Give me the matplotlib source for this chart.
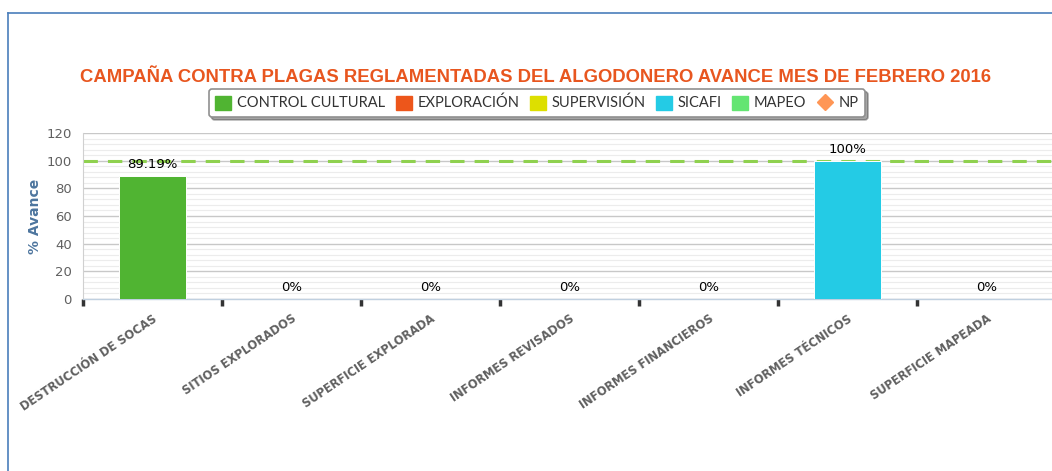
import matplotlib
matplotlib.use("Agg")
import matplotlib.pyplot as plt
from matplotlib.lines import Line2D
from matplotlib.patches import Patch
import numpy as np

categories = ["DESTRUCCIÓN DE SOCAS", "SITIOS EXPLORADOS", "SUPERFICIE EXPLORADA",
              "INFORMES REVISADOS", "INFORMES FINANCIEROS", "INFORMES TÉCNICOS",
              "SUPERFICIE MAPEADA"]
series_names = ["CONTROL CULTURAL", "EXPLORACIÓN", "SUPERVISIÓN", "SICAFI", "MAPEO"]
series_colors = ["#50b432", "#ed561b", "#dddf00", "#24cbe5", "#64e572"]
# category indices and values for each series
series_cats = [[0], [1, 2], [3], [4, 5], [6]]
series_vals = [[89.19], [0, 0], [0], [0, 100], [0]]
np_name = "NP"
np_color = "#ff9655"
target = 100
yticks = [0, 20, 40, 60, 80, 100, 120]
title = "CAMPAÑA CONTRA PLAGAS REGLAMENTADAS DEL ALGODONERO AVANCE MES DE FEBRERO 2016"

W, H = 1052, 471
fig = plt.figure(figsize=(W / 100, H / 100), dpi=100)
fig.patch.set_facecolor("white")

left, right, top, bottom = 83, 1056, 133, 299
ax = fig.add_axes([left / W, 1 - bottom / H, (right - left) / W, (bottom - top) / H])

for name, col, cats, vals in zip(series_names, series_colors, series_cats, series_vals):
    bars = ax.bar(cats, vals, width=0.475, color=col, edgecolor="white", linewidth=0.7, zorder=3)
    ax.bar_label(bars, labels=[f"{v:g}%" for v in vals], padding=3.5, fontsize=9.5,
                 color="black", family="DejaVu Sans", zorder=4)

ax.axhline(target, color="#8fd14f", lw=2.2, linestyle=(0, (4.7, 3.3)), zorder=2)

ax.set_xlim(-0.5, len(categories) - 0.5)
ax.set_ylim(0, 120)
ax.set_yticks(yticks)
ax.set_yticks(np.arange(0, 121, 4), minor=True)
ax.grid(axis="y", which="major", color="#c8c8c8", lw=1.0, zorder=0)
ax.grid(axis="y", which="minor", color="#ececec", lw=0.8, zorder=0)
ax.tick_params(axis="y", which="both", length=0, labelsize=9.5, labelcolor="#606060", pad=8)
for lab in ax.get_yticklabels():
    lab.set_family("DejaVu Sans")

ax.set_xticks(range(len(categories)))
ax.set_xticklabels(categories, rotation=34, ha="right", rotation_mode="anchor",
                   fontsize=8.3, fontweight="bold", color="#606060", family="DejaVu Sans")
ax.tick_params(axis="x", which="major", length=0, pad=9.5)
ax.set_xticks(np.arange(-0.5, len(categories), 1.0), minor=True)
ax.tick_params(axis="x", which="minor", length=5, width=2.5, color="#333333")

for s in ["top", "right"]:
    ax.spines[s].set_visible(False)
ax.spines["left"].set_color("#d0d0d0")
ax.spines["left"].set_linewidth(0.8)
ax.spines["bottom"].set_color("#c0d0e0")
ax.spines["bottom"].set_linewidth(1.0)

ax.set_ylabel("% Avance", fontsize=10, fontweight="bold", color="#4d759e",
              family="DejaVu Sans", labelpad=3)

fig.text(536 / W, 1 - 78 / H, title, ha="center", va="center", fontsize=13.3,
         fontweight="bold", color="#e8561f", family="Liberation Sans")

handles = [Patch(facecolor=c, edgecolor=c, label=n) for n, c in zip(series_names, series_colors)]
handles.append(Line2D([], [], marker="D", color=np_color, linestyle="none", markersize=8,
                      label=np_name))
leg = fig.legend(handles=handles, loc="center", bbox_to_anchor=(537 / W, 1 - 103 / H),
                 ncol=6, frameon=True, fancybox=True, shadow=True,
                 handlelength=1.1, handleheight=1.1, handletextpad=0.4, columnspacing=0.7,
                 borderpad=0.45, prop={"family": "Lato", "size": 10.5})
leg.get_frame().set_edgecolor("#909090")
leg.get_frame().set_linewidth(1.2)
for t in leg.get_texts():
    t.set_color("#333333")

# outer frame lines
fig.add_artist(Line2D([8 / W, 8 / W], [0, 1 - 13 / H], color="#4a7ebb", lw=1.2))
fig.add_artist(Line2D([8 / W, 1], [1 - 13 / H, 1 - 13 / H], color="#4a7ebb", lw=1.2))

fig.savefig("out.png", dpi=100)
